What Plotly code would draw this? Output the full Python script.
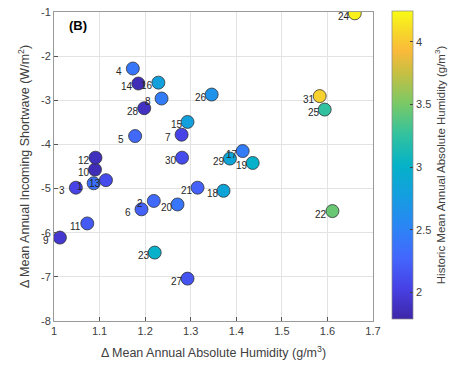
import plotly.graph_objects as go

# ---- data ----
site_ids = [str(i) for i in range(1, 32)]
delta_humidity = [1.087, 1.219, 1.048, 1.173, 1.178, 1.192, 1.280, 1.236, 1.013, 1.090,
                  1.073, 1.091, 1.114, 1.185, 1.293, 1.229, 1.414, 1.372, 1.436, 1.271,
                  1.315, 1.611, 1.221, 1.660, 1.594, 1.346, 1.293, 1.198, 1.386, 1.281,
                  1.583]
delta_shortwave = [-4.88, -5.28, -4.98, -2.28, -3.81, -5.47, -3.78, -2.96, -6.11, -4.57,
                   -5.79, -4.30, -4.81, -2.62, -3.49, -2.60, -4.15, -5.05, -4.42, -5.36,
                   -4.98, -5.51, -6.45, -1.03, -3.21, -2.87, -7.04, -3.18, -4.32, -4.30,
                   -2.905]
historic_humidity = [2.35, 2.3, 2.05, 2.4, 2.3, 2.25, 2.05, 2.45, 1.95, 1.85,
                     2.2, 1.88, 2.1, 1.85, 2.8, 2.8, 2.45, 2.85, 3.0, 2.4,
                     2.25, 3.45, 3.0, 4.2, 3.25, 2.65, 2.15, 1.9, 2.85, 2.1,
                     4.05]
x_ticks = [1, 1.1, 1.2, 1.3, 1.4, 1.5, 1.6, 1.7]
y_ticks = [-8, -7, -6, -5, -4, -3, -2, -1]
cbar_ticks = [2, 2.5, 3, 3.5, 4]

# parula-like colormap key colours
parula_pos = [0.0, 0.1, 0.2, 0.3, 0.4, 0.5, 0.6, 0.7, 0.8, 0.87, 0.93, 1.0]
parula_rgb = [(0.2422, 0.1504, 0.6603), (0.2780, 0.2540, 0.8970), (0.2647, 0.4030, 0.9935),
              (0.1700, 0.5200, 0.9600), (0.0800, 0.6200, 0.8800), (0.0200, 0.7000, 0.7800),
              (0.2000, 0.7600, 0.6200), (0.4800, 0.7900, 0.4000), (0.7800, 0.7500, 0.2600),
              (0.9800, 0.7300, 0.2300), (0.9700, 0.8400, 0.1700), (0.9769, 0.9839, 0.0805)]
colorscale = [[p, "rgb(%d,%d,%d)" % tuple(int(round(c * 255)) for c in rgb)]
              for p, rgb in zip(parula_pos, parula_rgb)]

FONT = "Arial, Liberation Sans, Helvetica, sans-serif"
GRAY = "#404040"

fig = go.Figure()
fig.add_trace(go.Scatter(
    x=delta_humidity, y=delta_shortwave, mode="markers",
    marker=dict(size=13, color=historic_humidity, colorscale=colorscale,
                cmin=1.79, cmax=4.245,
                line=dict(color="#333333", width=0.8),
                colorbar=dict(
                    x=1.06, xanchor="left", xpad=0, ypad=0,
                    y=0.505, yanchor="middle",
                    len=308, lenmode="pixels", thickness=21,
                    tickvals=cbar_ticks, ticks="inside", ticklen=3,
                    tickcolor=GRAY, outlinecolor="#888888", outlinewidth=0.7,
                    tickfont=dict(family=FONT, size=11, color=GRAY),
                    title=dict(text="Historic Mean Annual Absolute Humidity (g/m<sup>3</sup>)",
                               side="right",
                               font=dict(family=FONT, size=11.5, color=GRAY)),
                )),
    showlegend=False, hoverinfo="skip"))

annotations = []
for sid, xv, yv in zip(site_ids, delta_humidity, delta_shortwave):
    annotations.append(dict(x=xv, y=yv, xref="x", yref="y", text=sid,
                            showarrow=False, xanchor="left", yanchor="middle",
                            xshift=-19, yshift=-3,
                            font=dict(family=FONT, size=10, color="#262626")))
annotations.append(dict(x=0.04, y=0.955, xref="paper", yref="paper", text="<b>(B)</b>",
                        showarrow=False, xanchor="left", yanchor="middle",
                        font=dict(family=FONT, size=13, color="#000000")))

axis_common = dict(showgrid=True, gridcolor="#e3e3e3", gridwidth=1,
                   showline=True, linecolor="#9a9a9a", linewidth=1, mirror=True,
                   ticks="inside", ticklen=4, tickcolor="#555555", zeroline=False,
                   automargin=False,
                   tickfont=dict(family=FONT, size=11, color=GRAY))

fig.update_layout(
    width=462, height=371,
    margin=dict(l=54, r=89, t=12, b=50, autoexpand=False),
    paper_bgcolor="white", plot_bgcolor="white",
    xaxis=dict(range=[1, 1.7], tickvals=x_ticks, ticktext=[str(t) for t in x_ticks],
               title=dict(text="Δ Mean Annual Absolute Humidity (g/m<sup>3</sup>)",
                          font=dict(family=FONT, size=12.5, color=GRAY), standoff=12),
               **axis_common),
    yaxis=dict(range=[-8, -1], tickvals=y_ticks, ticktext=[str(t) for t in y_ticks],
               title=dict(text="Δ Mean Annual Incoming Shortwave (W/m<sup>2</sup>)",
                          font=dict(family=FONT, size=12.5, color=GRAY), standoff=8),
               **axis_common),
    annotations=annotations,
)

fig.write_html("out.html", config={"displayModeBar": False},
               post_script="document.body.style.margin='0';document.body.style.overflow='hidden';")
